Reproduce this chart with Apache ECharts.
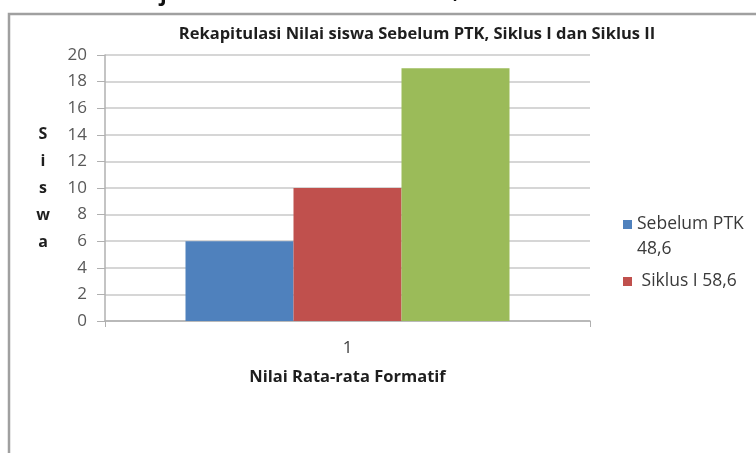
<!DOCTYPE html>
<html>
<head>
<meta charset="utf-8">
<style>
  html, body { margin: 0; padding: 0; background: #ffffff; }
  #chart { width: 756px; height: 453px; }
</style>
<script src="https://cdn.jsdelivr.net/npm/echarts@6/dist/echarts.min.js"></script>
</head>
<body>
<div id="chart"></div>
<script>
// Category on the x axis
const categories = ['1'];

// Number of students per group
const sebelumPTK = [6];
const siklusI = [10];
const siklusII = [19];

// Series names (legend shows the first two)
const seriesNames = ['Sebelum PTK 48,6', ' Siklus I 58,6', 'Siklus II'];

// Y axis ticks
const yMin = 0;
const yMax = 20;
const yStep = 2;

const titleText = 'Rekapitulasi Nilai siswa Sebelum PTK, Siklus I dan Siklus II';
const xAxisTitle = 'Nilai Rata-rata Formatif';
const yAxisTitle = 'S\ni\ns\nw\na';

const colors = ['#4F81BD', '#C0504D', '#9BBB59'];
const fontFamily = '"Open Sans", "Noto Sans", sans-serif';

// Legend markers: a 9px square inside a 34px-tall box, so the square
// can sit beside the first line of a wrapped label or be centred.
const iconTop = 'path://M0,0L9,0L9,9L0,9Z M0,34L0.01,34';
const iconMid = 'path://M0,0L0.01,0 M0,12.5L9,12.5L9,21.5L0,21.5Z M0,34L0.01,34';

const chart = echarts.init(document.getElementById('chart'), null, { renderer: 'canvas' });

function barSeries(name, data, color) {
  return {
    name: name,
    type: 'bar',
    data: data,
    barWidth: 108,
    barGap: '0%',
    itemStyle: { color: color },
    emphasis: { disabled: true }
  };
}

chart.setOption({
  animation: false,
  backgroundColor: '#ffffff',
  textStyle: { fontFamily: fontFamily },
  title: {
    text: titleText,
    left: 412,
    textAlign: 'center',
    top: 21,
    textStyle: { fontSize: 16.5, fontWeight: 'bold', color: '#1e1e1e', fontFamily: fontFamily }
  },
  grid: { left: 105, right: 166, top: 55, bottom: 132 },
  legend: {
    data: [
      { name: seriesNames[0], icon: iconTop },
      { name: seriesNames[1], icon: iconMid }
    ],
    orient: 'vertical',
    left: 623,
    top: 212,
    padding: 0,
    itemWidth: 9,
    itemHeight: 34,
    itemGap: 2.5,
    itemStyle: { borderWidth: 0 },
    formatter: function (name) {
      return name === seriesNames[0] ? 'Sebelum PTK\n48,6' : name;
    },
    textStyle: { fontSize: 17.5, color: '#3a3a3a', lineHeight: 25, fontFamily: fontFamily }
  },
  xAxis: {
    type: 'category',
    data: categories,
    name: xAxisTitle,
    nameLocation: 'middle',
    nameGap: 48,
    nameTextStyle: { fontSize: 16.5, fontWeight: 'bold', color: '#1e1e1e' },
    axisLine: { lineStyle: { color: '#b0b0b0', width: 1.5 } },
    axisTick: { show: true, length: 6, lineStyle: { color: '#b0b0b0' } },
    axisLabel: { fontSize: 17, color: '#404040', margin: 19 }
  },
  yAxis: {
    type: 'value',
    min: yMin,
    max: yMax,
    interval: yStep,
    name: yAxisTitle,
    nameLocation: 'middle',
    nameRotate: 0,
    nameGap: 62,
    nameTextStyle: { fontSize: 16, fontWeight: 'bold', color: '#1e1e1e', lineHeight: 27, align: 'center' },
    axisLine: { show: true, lineStyle: { color: '#b0b0b0', width: 1.5 } },
    axisTick: { show: true, length: 8, lineStyle: { color: '#b0b0b0' } },
    axisLabel: { fontSize: 17, color: '#595959', margin: 18 },
    splitLine: { show: true, lineStyle: { color: '#c8c8c8', width: 1.5 } }
  },
  series: [
    barSeries(seriesNames[0], sebelumPTK, colors[0]),
    barSeries(seriesNames[1], siklusI, colors[1]),
    barSeries(seriesNames[2], siklusII, colors[2])
  ],
  graphic: [
    {
      // chart area border
      type: 'rect',
      shape: { x: 9, y: 14, width: 800, height: 500 },
      style: { fill: 'none', stroke: '#a0a0a0', lineWidth: 2.5 },
      z: -1
    },
    {
      type: 'text',
      left: 160,
      top: -16,
      style: { text: 'j', fontSize: 22, fontWeight: 'bold', fill: '#111111', fontFamily: fontFamily }
    },
    {
      type: 'text',
      left: 453,
      top: -19,
      style: { text: ',', fontSize: 22, fontWeight: 'bold', fill: '#111111', fontFamily: fontFamily }
    }
  ]
});
</script>
</body>
</html>
